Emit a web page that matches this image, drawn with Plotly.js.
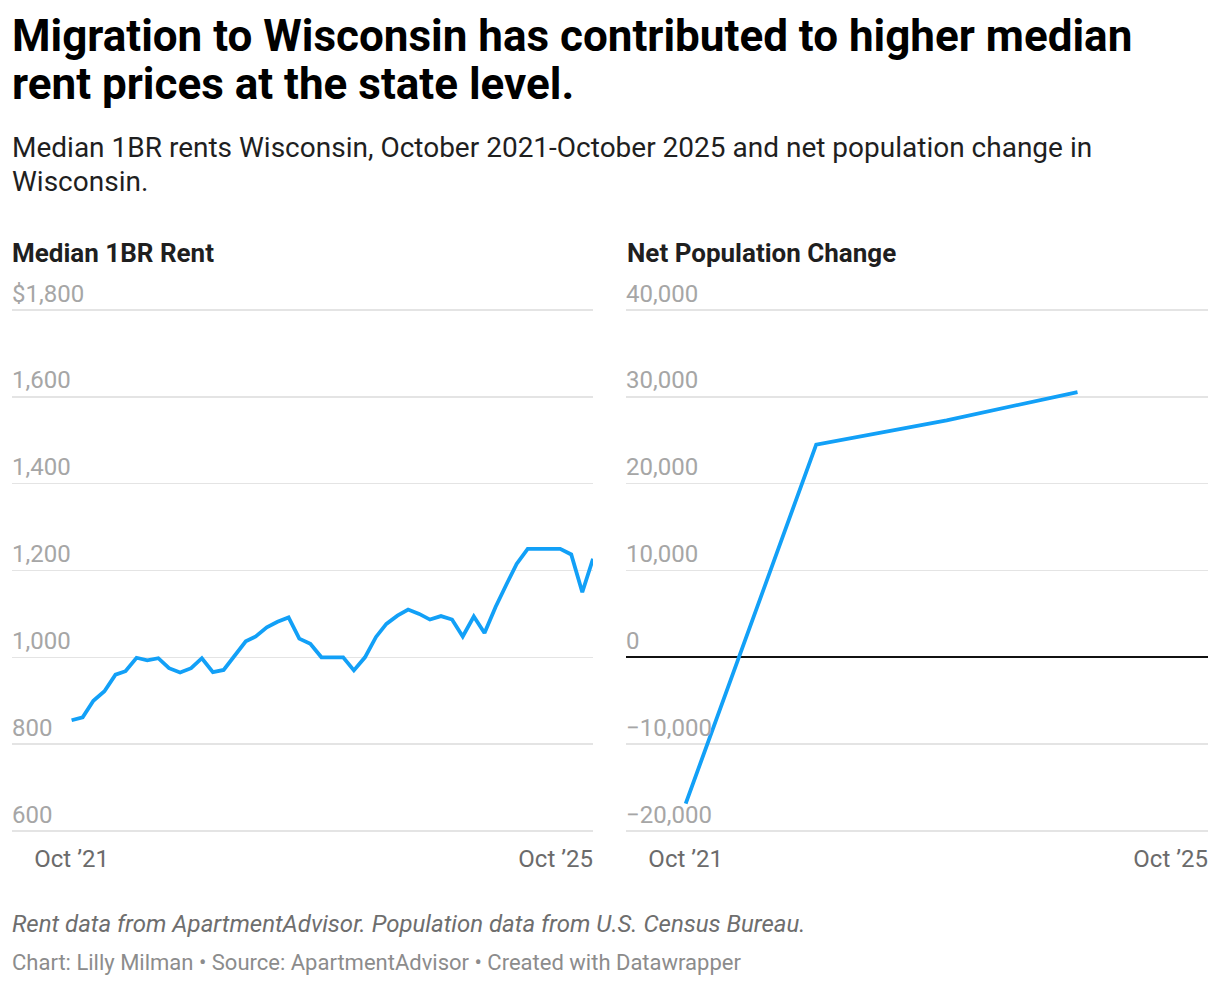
<!DOCTYPE html>
<html>
<head>
<meta charset="utf-8">
<script src="https://cdn.plot.ly/plotly-3.0.1.min.js"></script>
<style>
  html, body { margin: 0; padding: 0; background: #ffffff; }
  #chart { width: 1220px; height: 986px; }
</style>
</head>
<body>
<div id="chart"></div>
<script>
// ---- Data ----
const rentMonths = [
  '2021-10-01','2021-11-01','2021-12-01',
  '2022-01-01','2022-02-01','2022-03-01','2022-04-01','2022-05-01','2022-06-01',
  '2022-07-01','2022-08-01','2022-09-01','2022-10-01','2022-11-01','2022-12-01',
  '2023-01-01','2023-02-01','2023-03-01','2023-04-01','2023-05-01','2023-06-01',
  '2023-07-01','2023-08-01','2023-09-01','2023-10-01','2023-11-01','2023-12-01',
  '2024-01-01','2024-02-01','2024-03-01','2024-04-01','2024-05-01','2024-06-01',
  '2024-07-01','2024-08-01','2024-09-01','2024-10-01','2024-11-01','2024-12-01',
  '2025-01-01','2025-02-01','2025-03-01','2025-04-01','2025-05-01','2025-06-01',
  '2025-07-01','2025-08-01','2025-09-01','2025-10-01'
];
const medianRent = [
  855, 862, 900,
  922, 960, 968, 999, 993, 998,
  975, 965, 975, 998, 966, 971,
  1004, 1037, 1048, 1069, 1082, 1092,
  1043, 1031, 1000, 1000, 1000, 970,
  1000, 1047, 1077, 1096, 1110, 1100,
  1087, 1095, 1087, 1048, 1094, 1056,
  1116, 1169, 1215, 1250, 1250, 1250,
  1250, 1237, 1150, 1227
];
const popDates = ['2021-10-01', '2022-10-01', '2023-10-01', '2024-10-01'];
const netPopChange = [-16850, 24500, 27300, 30550];

const rentTickVals = [600, 800, 1000, 1200, 1400, 1600, 1800];
const rentTickText = ['600', '800', '1,000', '1,200', '1,400', '1,600', '$1,800'];
const popTickVals = [-20000, -10000, 0, 10000, 20000, 30000, 40000];
const popTickText = ['\u221220,000', '\u221210,000', '0', '10,000', '20,000', '30,000', '40,000'];
const xStartDate = '2021-10-01';
const xEndDate = '2025-10-01';
const xStartLabel = 'Oct \u201921';
const xEndLabel = 'Oct \u201925';
const xRange = ['2021-04-17', '2025-10-01'];

// ---- Layout helpers ----
const W = 1220, H = 986;
const px = v => v / W;
const py = v => 1 - v / H;
const FONT = 'Roboto, "Noto Sans", sans-serif';
const BLUE = '#12a0f7';

const traces = [
  {
    x: rentMonths, y: medianRent, xaxis: 'x', yaxis: 'y',
    type: 'scatter', mode: 'lines',
    line: { color: BLUE, width: 3.8, shape: 'linear' },
    hoverinfo: 'skip'
  },
  {
    x: popDates, y: netPopChange, xaxis: 'x2', yaxis: 'y2',
    type: 'scatter', mode: 'lines',
    line: { color: BLUE, width: 3.8, shape: 'linear' },
    hoverinfo: 'skip'
  },
  // transparent copies so the overlaid end-label axes get drawn
  {
    x: rentMonths, y: medianRent, xaxis: 'x3', yaxis: 'y',
    type: 'scatter', mode: 'lines', opacity: 0,
    line: { color: BLUE, width: 0 }, hoverinfo: 'skip'
  },
  {
    x: popDates, y: netPopChange, xaxis: 'x4', yaxis: 'y2',
    type: 'scatter', mode: 'lines', opacity: 0,
    line: { color: BLUE, width: 0 }, hoverinfo: 'skip'
  }
];

// slight range padding so the edge gridlines are drawn
const yDomain = [py(832.3), py(308.7)];

function xBase() {
  return {
    type: 'date', range: xRange.slice(), showgrid: false, zeroline: false, showline: false,
    ticks: '', tickfont: { family: FONT, size: 24, color: '#6b6b6b' },
    ticklabelstandoff: 10, ticklabeloverflow: 'allow', fixedrange: true
  };
}
function yBase() {
  return {
    domain: yDomain.slice(), showline: false, ticks: '',
    gridcolor: '#e4e4e4', gridwidth: 1.6,
    tickfont: { family: FONT, size: 24, color: '#a6a6a6' },
    ticklabelposition: 'inside top', ticklabeloverflow: 'allow',
    ticklabelstandoff: -3, fixedrange: true
  };
}

const layout = {
  width: W, height: H,
  margin: { l: 0, r: 0, t: 0, b: 0 },
  paper_bgcolor: '#ffffff', plot_bgcolor: '#ffffff',
  showlegend: false,
  font: { family: FONT },
  xaxis: Object.assign(xBase(), {
    domain: [px(12), px(593)], anchor: 'y',
    tickvals: [xStartDate], ticktext: [xStartLabel]
  }),
  xaxis3: Object.assign(xBase(), {
    overlaying: 'x', anchor: 'y',
    tickvals: [xEndDate], ticktext: [xEndLabel],
    ticklabelposition: 'outside left'
  }),
  xaxis2: Object.assign(xBase(), {
    domain: [px(626), px(1208)], anchor: 'y2',
    tickvals: [xStartDate], ticktext: [xStartLabel]
  }),
  xaxis4: Object.assign(xBase(), {
    overlaying: 'x2', anchor: 'y2',
    tickvals: [xEndDate], ticktext: [xEndLabel],
    ticklabelposition: 'outside left'
  }),
  yaxis: Object.assign(yBase(), {
    anchor: 'x', range: [597, 1803],
    tickvals: rentTickVals, ticktext: rentTickText, zeroline: false
  }),
  yaxis2: Object.assign(yBase(), {
    anchor: 'x2', range: [-20150, 40150],
    tickvals: popTickVals, ticktext: popTickText,
    zeroline: true, zerolinecolor: '#111111', zerolinewidth: 2
  }),
  annotations: [
    { text: '<b>Migration to Wisconsin has contributed to higher median</b>', x: px(10), y: py(36),
      font: { family: FONT, size: 44, color: '#000000' } },
    { text: '<b>rent prices at the state level.</b>', x: px(10), y: py(84),
      font: { family: FONT, size: 44, color: '#000000' } },
    { text: 'Median 1BR rents Wisconsin, October 2021-October 2025 and net population change in', x: px(10), y: py(147),
      font: { family: FONT, size: 28, color: '#1f1f1f' } },
    { text: 'Wisconsin.', x: px(10), y: py(181),
      font: { family: FONT, size: 28, color: '#1f1f1f' } },
    { text: '<b>Median 1BR Rent</b>', x: px(10), y: py(253),
      font: { family: FONT, size: 26, color: '#1f1f1f' } },
    { text: '<b>Net Population Change</b>', x: px(625), y: py(253),
      font: { family: FONT, size: 26, color: '#1f1f1f' } },
    { text: '<i>Rent data from ApartmentAdvisor. Population data from U.S. Census Bureau.</i>', x: px(10), y: py(924),
      font: { family: FONT, size: 24, color: '#6e6e6e' } },
    { text: 'Chart: Lilly Milman \u2022 Source: ApartmentAdvisor \u2022 Created with Datawrapper', x: px(10), y: py(962),
      font: { family: FONT, size: 22, color: '#8c8c8c' } }
  ].map(a => Object.assign({
    xref: 'paper', yref: 'paper', xanchor: 'left', yanchor: 'middle',
    showarrow: false, align: 'left'
  }, a))
};

Plotly.newPlot('chart', traces, layout, { staticPlot: true, displayModeBar: false, responsive: false });
</script>
</body>
</html>
